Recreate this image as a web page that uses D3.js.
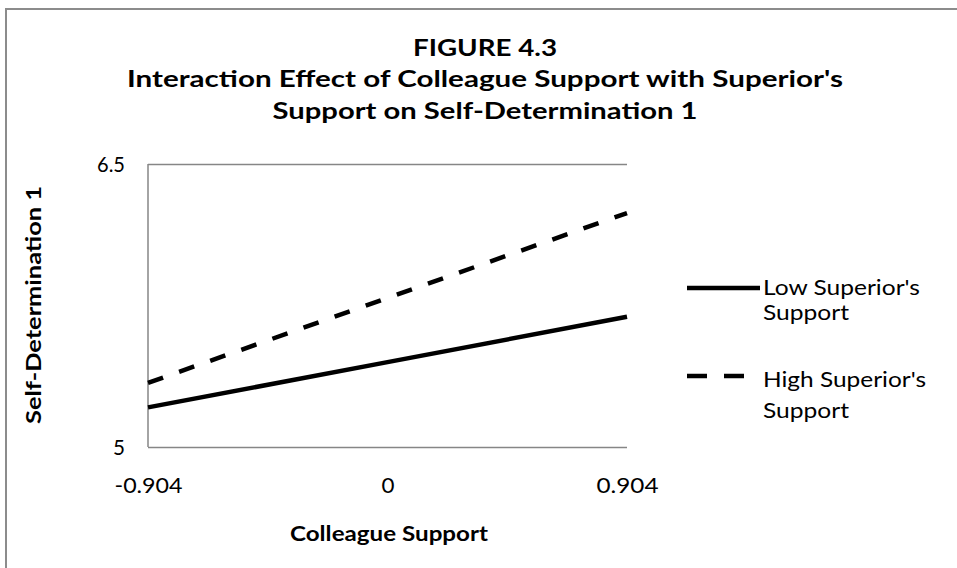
<!DOCTYPE html>
<meta charset="utf-8">
<style>
body { margin: 0; background: #fff; }
svg { display: block; font-family: Lato, "Open Sans", sans-serif; }
.axis { font-family: Lato, "Open Sans", sans-serif; }
.axis text { font-size: 21px; fill: #000; }
.axis path, .axis line { stroke: #868686; stroke-width: 1.5; }
.title { font-weight: bold; font-size: 22px; text-anchor: middle; }
.axis-title { font-weight: bold; font-size: 21px; text-anchor: middle; }
.legend text { font-size: 22px; }
</style>
<svg width="957" height="568"></svg>
<script src="https://d3js.org/d3.v7.min.js"></script>
<script>
// values
var xValues = [-0.904, 0, 0.904];
var xTickLabels = ['-0.904', '0', '0.904'];
var yTicks = [5, 6.5];
var yTickLabels = ['5', '6.5'];
var lowSupport = [5.21, 5.45, 5.69];
var highSupport = [5.34, 5.79, 6.24];
var seriesNames = [["Low Superior's", 'Support'], ["High Superior's", 'Support']];
var titleLines = ['FIGURE 4.3', "Interaction Effect of Colleague Support with Superior's", 'Support on Self-Determination 1'];

// the original picture is stretched sideways, so text widths are forced
var textWidths = {
  'FIGURE 4.3': 144,
  "Interaction Effect of Colleague Support with Superior's": 716,
  'Support on Self-Determination 1': 425,
  "Low Superior's": 157,
  "High Superior's": 163,
  'Support': 86,
  '-0.904': 68,
  '0.904': 62,
  '0': 13,
  '6.5': 28,
  '5': 12,
  'Colleague Support': 198,
  'Self-Determination 1': 238
};
function fitWidth(sel) {
  sel.attr('textLength', function () { return textWidths[this.textContent]; })
    .attr('lengthAdjust', 'spacingAndGlyphs');
}

var svgElem = d3.select('svg');
var margin = { top: 164, left: 148, bottom: 121, right: 330 };
var width = +svgElem.attr('width') - margin.left - margin.right;
var height = +svgElem.attr('height') - margin.top - margin.bottom;

// chart frame (cut off at right and bottom in the original)
svgElem.append('rect')
  .attr('x', 6).attr('y', 9)
  .attr('width', 1000).attr('height', 700)
  .attr('fill', 'none')
  .attr('stroke', '#8c8c8c')
  .attr('stroke-width', 2);

// titles
var titleY = [56, 87, 119];
svgElem.selectAll('.title')
  .data(titleLines)
  .enter().append('text')
  .attr('class', 'title')
  .attr('x', 485)
  .attr('y', function (d, i) { return titleY[i]; })
  .text(function (d) { return d; })
  .call(fitWidth);

var g = svgElem.append('g')
  .attr('transform', `translate(${margin.left}, ${margin.top})`);

var x = d3.scaleLinear().domain([xValues[0], xValues[2]]).range([0, width]);
var y = d3.scaleLinear().domain([yTicks[0], yTicks[1]]).range([height, 0]);

// horizontal lines at 5 and 6.5 + y labels
var yAxis = g.append('g')
  .attr('class', 'axis')
  .call(d3.axisLeft(y).tickValues(yTicks)
    .tickFormat(function (d, i) { return yTickLabels[i]; })
    .tickSize(-width).tickPadding(23));
yAxis.select('.domain').remove();
yAxis.selectAll('text').attr('dy', '0.36em').call(fitWidth);
g.append('line')
  .attr('x1', 0).attr('x2', 0).attr('y1', 0).attr('y2', height)
  .attr('stroke', '#868686').attr('stroke-width', 1.5);

var xAxis = g.append('g')
  .attr('class', 'axis')
  .attr('transform', `translate(0, ${height})`)
  .call(d3.axisBottom(x).tickValues(xValues)
    .tickFormat(function (d, i) { return xTickLabels[i]; })
    .tickSize(0).tickPadding(31));
xAxis.select('.domain').remove();
xAxis.selectAll('text').call(fitWidth);

var line = d3.line()
  .x(function (d, i) { return x(xValues[i]); })
  .y(function (d) { return y(d); });

g.append('path')
  .datum(lowSupport)
  .attr('d', line)
  .attr('fill', 'none')
  .attr('stroke', '#000')
  .attr('stroke-width', 4.5);

g.append('path')
  .datum(highSupport)
  .attr('d', line)
  .attr('fill', 'none')
  .attr('stroke', '#000')
  .attr('stroke-width', 4.5)
  .attr('stroke-dasharray', '16,17');

// axis titles
svgElem.append('text')
  .attr('class', 'axis-title')
  .attr('x', 389)
  .attr('y', 541)
  .text('Colleague Support')
  .call(fitWidth);

svgElem.append('text')
  .attr('class', 'axis-title')
  .attr('transform', 'translate(41, 305) rotate(-90)')
  .text('Self-Determination 1')
  .call(fitWidth);

// legend
var legend = svgElem.append('g').attr('class', 'legend');
var legendLineY = [288, 376];
var legendTextY = [[295, 320], [387, 418]];
seriesNames.forEach(function (name, i) {
  legend.append('line')
    .attr('x1', 687).attr('x2', i === 1 ? 744 : 760)
    .attr('y1', legendLineY[i]).attr('y2', legendLineY[i])
    .attr('stroke', '#000')
    .attr('stroke-width', 4.5)
    .attr('stroke-dasharray', i === 1 ? '20,17' : null);
  name.forEach(function (t, j) {
    legend.append('text')
      .attr('x', 763)
      .attr('y', legendTextY[i][j])
      .text(t)
      .call(fitWidth);
  });
});
</script>
